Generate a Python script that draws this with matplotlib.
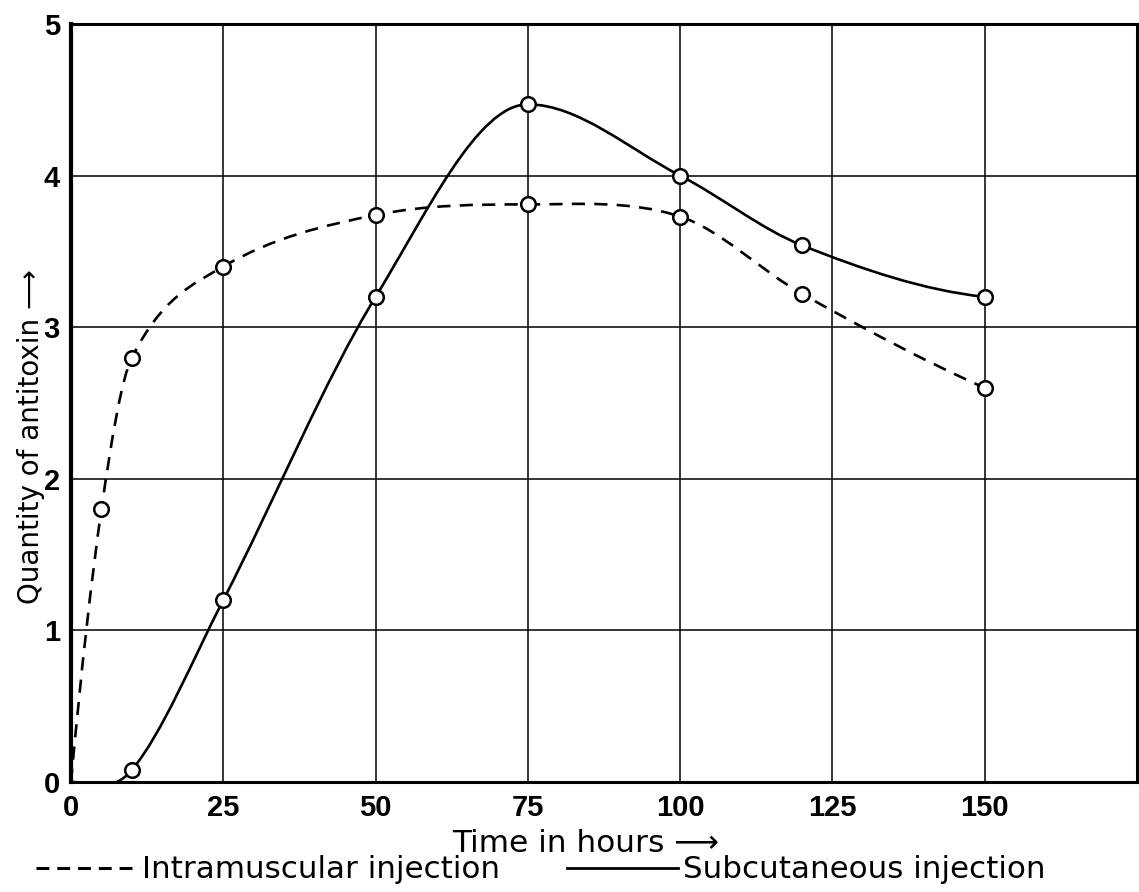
import numpy as np
import matplotlib
matplotlib.use('Agg')
import matplotlib.pyplot as plt
from matplotlib.path import Path
from matplotlib.patches import PathPatch
from matplotlib.lines import Line2D

# ---- data ----
hours_im = [0, 5, 10, 25, 50, 75, 100, 120, 150]
antitoxin_im = [0, 1.8, 2.8, 3.4, 3.74, 3.81, 3.73, 3.22, 2.6]
hours_sc = [0, 10, 25, 50, 75, 100, 120, 150]
antitoxin_sc = [0, 0.08, 1.2, 3.2, 4.47, 4.0, 3.54, 3.2]
x_ticks = [0, 25, 50, 75, 100, 125, 150]
x_tick_labels = ['0', '25', '50', '75', '100', '125', '150']
y_ticks = [0, 1, 2, 3, 4, 5]
y_tick_labels = ['0', '1', '2', '3', '4', '5']
x_label = 'Time in hours \u27f6'
y_label = 'Quantity of antitoxin \u27f6'
legend_im = 'Intramuscular injection'
legend_sc = 'Subcutaneous injection'

TEXT_FONT = ['DejaVu Sans']
TICK_FONT = ['Liberation Sans', 'DejaVu Sans']
plt.rcParams['font.family'] = TEXT_FONT


def smooth_path(x, y):
    """Smooth hand-drawn-style curve through the points (cubic Bezier segments)."""
    x = np.asarray(x, float)
    y = np.asarray(y, float)
    h = np.diff(x)
    d = np.diff(y) / h
    n = len(x)
    m = np.zeros(n)
    for k in range(1, n - 1):
        if d[k - 1] * d[k] <= 0:
            m[k] = 0.0
        else:
            m[k] = (y[k + 1] - y[k - 1]) / (x[k + 1] - x[k - 1])

    def end(h0, h1, d0, d1):
        s = ((2 * h0 + h1) * d0 - h0 * d1) / (h0 + h1)
        if np.sign(s) != np.sign(d0):
            return 0.0
        if np.sign(d0) != np.sign(d1) and abs(s) > 3 * abs(d0):
            return 3 * d0
        return s

    m[0] = end(h[0], h[1], d[0], d[1])
    m[-1] = end(h[-1], h[-2], d[-1], d[-2])
    verts = [(x[0], y[0])]
    codes = [Path.MOVETO]
    for k in range(n - 1):
        verts += [(x[k] + h[k] / 3, y[k] + m[k] * h[k] / 3),
                  (x[k + 1] - h[k] / 3, y[k + 1] - m[k + 1] * h[k] / 3),
                  (x[k + 1], y[k + 1])]
        codes += [Path.CURVE4] * 3
    return Path(verts, codes)


W, H = 1139, 892
fig = plt.figure(figsize=(W / 100, H / 100), dpi=100)
ax = fig.add_axes([71 / W, 1 - 782 / H, (1137 - 71) / W, (782 - 24) / H])

ax.set_xlim(0, 175)
ax.set_ylim(0, 5)
ax.set_xticks(x_ticks)
ax.set_xticklabels(x_tick_labels)
ax.set_yticks(y_ticks)
ax.set_yticklabels(y_tick_labels)
ax.grid(True, color='black', linewidth=1.1)
ax.set_axisbelow(True)
ax.tick_params(length=0, labelsize=21, pad=8)
ax.tick_params(axis='x', pad=9)
for lab in ax.get_xticklabels() + ax.get_yticklabels():
    lab.set_fontweight('bold')
    lab.set_family(TICK_FONT)
for s in ax.spines.values():
    s.set_linewidth(2.2)
ax.spines['left'].set_linewidth(3)

# curves
p_im = PathPatch(smooth_path(hours_im, antitoxin_im), fill=False, edgecolor='black',
                 linewidth=1.9, linestyle=(0, (5, 3.5)), zorder=3)
p_sc = PathPatch(smooth_path(hours_sc, antitoxin_sc), fill=False, edgecolor='black',
                 linewidth=1.9, zorder=3)
ax.add_patch(p_im)
ax.add_patch(p_sc)

# observation circles
ax.plot(hours_im[1:], antitoxin_im[1:], 'o', mfc='white', mec='black', ms=10.5, mew=1.8,
        zorder=4, clip_on=False)
ax.plot(hours_sc[1:], antitoxin_sc[1:], 'o', mfc='white', mec='black', ms=10.5, mew=1.8,
        zorder=4, clip_on=False)

# axis labels
fig.text(452 / W, 1 - 843 / H, x_label, fontsize=22.5, ha='left', va='center')
fig.text(31 / W, 1 - 604 / H, y_label, fontsize=20, rotation=90,
         ha='center', va='bottom')

# legend
fig.add_artist(Line2D([36 / W, 140 / W], [1 - 868 / H] * 2, color='black',
                      linewidth=2.2, linestyle=(0, (4.2, 2.6))))
fig.text(142 / W, 1 - 869 / H, legend_im, fontsize=22.3, ha='left', va='center')
fig.add_artist(Line2D([567 / W, 678 / W], [1 - 868 / H] * 2, color='black',
                      linewidth=2.0))
fig.text(683 / W, 1 - 869 / H, legend_sc, fontsize=22.3, ha='left', va='center')

fig.savefig('out.png', dpi=100)
